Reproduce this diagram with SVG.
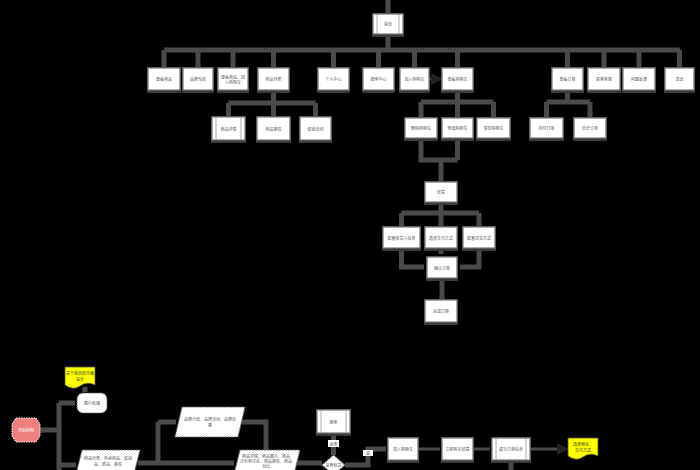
<svg xmlns="http://www.w3.org/2000/svg" width="700" height="470" viewBox="0 0 700 470">
<style>
text{font-family:"Noto Sans CJK SC","Noto Sans",sans-serif;font-size:4px;fill:#555;text-anchor:middle;dominant-baseline:central}
.sh{fill:#3a3a3a}
.box{fill:#fff;stroke:#777;stroke-width:1.2}
.bar{stroke:#999;stroke-width:0.8}
.c{fill:none;stroke:#4a4a4a;stroke-width:5}
.a{fill:none;stroke:#4a4a4a;stroke-width:3;marker-end:url(#ah)}
</style>
<defs>
<marker id="ah" markerWidth="4" markerHeight="4" refX="3" refY="2" orient="auto" markerUnits="strokeWidth"><path d="M0,0L4,2L0,4z" fill="#222"/></marker>
</defs>
<rect width="700" height="470" fill="#000"/>
<g id="connectors">
<path class="c" d="M388,0V14M388,34V50M164,50H680M164,50V68M198,50V68M233,50V68M273.5,50V68M333.5,50V68M378.5,50V68M414.5,50V68M457.5,50V68M567.5,50V68M604,50V68M639,50V68M679.5,50V68"/>
<path class="c" d="M273.5,90V117M228.5,103H315.5M228.5,103V117M315.5,103V117"/>
<path class="c" d="M457.5,91V118M421,102H493.5M421,102V118M493.5,102V118"/>
<path class="c" d="M567.5,91V102M546.5,102H590M546.5,102V118M590,102V118"/>
<path class="c" d="M421,138V160H457.5M457.5,138V160M441,160V182"/>
<path class="c" d="M441,202V227M401.5,213H479M401.5,213V227M479,213V227"/>
<path class="c" d="M401.5,248V267H424M479,248V267H460M441,248V254M442,278V300"/>
<path class="a" d="M429,79H440"/>
<path class="c" d="M40,430H59M59,403V470M59,403H75M59,465H76M85,387V392"/>
<path class="c" d="M138,463H234M158,422V463M158,422H176M242,422H266V450"/>
<path class="c" d="M297,463H322M333.5,433V455M345,465H368V449H386"/>
<path class="a" d="M418,449H440M473,449H490M530,449H566"/>
<path class="c" d="M511,460V470"/>
</g>
<g id="n-home"><rect class="sh" x="372" y="13" width="32" height="24"/><rect class="box" x="373" y="14" width="30" height="20"/><line class="bar" x1="377" y1="14" x2="377" y2="34"/><line class="bar" x1="399" y1="14" x2="399" y2="34"/><text x="388" y="24">首页</text></g>
<g id="n1"><rect class="sh" x="147" y="67" width="34" height="26"/><rect class="box" x="148" y="68" width="32" height="22"/><text x="164" y="79">查看商品</text></g>
<g id="n2"><rect class="sh" x="182" y="67" width="32" height="26"/><rect class="box" x="183" y="68" width="30" height="22"/><text x="198" y="79">品牌专区</text></g>
<g id="n3"><rect class="sh" x="217" y="67" width="32" height="26"/><rect class="box" x="218" y="68" width="30" height="22"/><text x="233" y="76.5">查看商品、加</text><text x="233" y="81.5">入购物车</text></g>
<g id="n4"><rect class="sh" x="257" y="67" width="33" height="26"/><rect class="box" x="258" y="68" width="31" height="22"/><text x="273.5" y="79">商品分类</text></g>
<g id="n5"><rect class="sh" x="317" y="67" width="33" height="26"/><rect class="box" x="318" y="68" width="31" height="22"/><text x="333.5" y="79">个人中心</text></g>
<g id="n6"><rect class="sh" x="362" y="67" width="33" height="26"/><rect class="box" x="363" y="68" width="31" height="22"/><text x="378.5" y="79">搜索中心</text></g>
<g id="n7"><rect class="sh" x="399" y="67" width="31" height="26"/><rect class="box" x="400" y="68" width="29" height="22"/><text x="414.5" y="79">加入购物车</text></g>
<g id="n8"><rect class="sh" x="441" y="67" width="33" height="26"/><rect class="box" x="442" y="68" width="31" height="22"/><text x="457.5" y="79">查看购物车</text></g>
<g id="n9"><rect class="sh" x="551" y="67" width="33" height="26"/><rect class="box" x="552" y="68" width="31" height="22"/><text x="567.5" y="79">查看订单</text></g>
<g id="n10"><rect class="sh" x="587" y="67" width="34" height="26"/><rect class="box" x="588" y="68" width="32" height="22"/><text x="604" y="79">联系客服</text></g>
<g id="n11"><rect class="sh" x="622" y="67" width="34" height="26"/><rect class="box" x="623" y="68" width="32" height="22"/><text x="639" y="79">问题反馈</text></g>
<g id="n12"><rect class="sh" x="664" y="67" width="31" height="26"/><rect class="box" x="665" y="68" width="29" height="22"/><text x="679.5" y="79">退出</text></g>
<g id="n4a"><rect class="sh" x="211" y="116" width="35" height="27"/><rect class="box" x="212" y="117" width="33" height="23"/><line class="bar" x1="216" y1="117" x2="216" y2="140"/><line class="bar" x1="241" y1="117" x2="241" y2="140"/><text x="228.5" y="128.5">商品详情</text></g>
<g id="n4b"><rect class="sh" x="256" y="116" width="35" height="27"/><rect class="box" x="257" y="117" width="33" height="23"/><text x="273.5" y="128.5">商品推荐</text></g>
<g id="n4c"><rect class="sh" x="299" y="116" width="33" height="27"/><rect class="box" x="300" y="117" width="31" height="23"/><text x="315.5" y="128.5">促销活动</text></g>
<g id="n8a"><rect class="sh" x="404" y="117" width="34" height="24"/><rect class="box" x="405" y="118" width="32" height="20"/><text x="421" y="128">删除购物车</text></g>
<g id="n8b"><rect class="sh" x="441" y="117" width="33" height="24"/><rect class="box" x="442" y="118" width="31" height="20"/><text x="457.5" y="128">修改购物车</text></g>
<g id="n8c"><rect class="sh" x="476" y="117" width="35" height="24"/><rect class="box" x="477" y="118" width="33" height="20"/><text x="493.5" y="128">清空购物车</text></g>
<g id="n9a"><rect class="sh" x="529" y="117" width="35" height="24"/><rect class="box" x="530" y="118" width="33" height="20"/><text x="546.5" y="128">待付订单</text></g>
<g id="n9b"><rect class="sh" x="573" y="117" width="34" height="24"/><rect class="box" x="574" y="118" width="32" height="20"/><text x="590" y="128">历史订单</text></g>
<g id="n-pay"><rect class="sh" x="424" y="181" width="34" height="24"/><rect class="box" x="425" y="182" width="32" height="20"/><text x="441" y="192">结算</text></g>
<g id="n-p1"><rect class="sh" x="382" y="226" width="39" height="25"/><rect class="box" x="383" y="227" width="37" height="21"/><text x="401.5" y="237.5">配置收货人信息</text></g>
<g id="n-p2"><rect class="sh" x="424" y="226" width="34" height="25"/><rect class="box" x="425" y="227" width="32" height="21"/><text x="441" y="237.5">选择支付方式</text></g>
<g id="n-p3"><rect class="sh" x="462" y="226" width="34" height="25"/><rect class="box" x="463" y="227" width="32" height="21"/><text x="479" y="237.5">配置送货方式</text></g>
<g id="n-confirm"><rect class="sh" x="426" y="256" width="32" height="25"/><rect class="box" x="427" y="257" width="30" height="21"/><text x="442" y="267.5">确认订单</text></g>
<g id="n-done"><rect class="sh" x="424" y="299" width="34" height="26"/><rect class="box" x="425" y="300" width="32" height="22"/><text x="441" y="311">完成订单</text></g>
<g id="b-start"><polygon points="16,418 36,418 40,424 40,436 36,442 16,442 12,436 12,424" fill="#f08080" stroke="#fff" stroke-width="1" stroke-dasharray="1.5,1"/><text x="26" y="430" style="fill:#fff">开始购物</text></g>
<g id="b-note1"><path d="M65,367H95V385Q87,381 80,386T65,385Z" fill="#ffff00" stroke="#555" stroke-width="0.8"/><text x="80" y="373" style="fill:#333">关于首页的平面</text><text x="80" y="378.5" style="fill:#333">设计</text></g>
<g id="b-banner"><rect x="77" y="393" width="30" height="20" rx="6" fill="#fff" stroke="#666" stroke-width="1.2" stroke-dasharray="1.5,1"/><text x="92" y="403">图片轮播</text></g>
<g id="b-par1"><polygon points="82,450 140,450 133,478 75,478" fill="#fff" stroke="#666" stroke-width="1.2" stroke-dasharray="2,1"/><text x="108" y="458">商品分类：热卖商品、促销</text><text x="108" y="463.5">品、新品、推荐</text></g>
<g id="b-par2"><polygon points="182,407 245,407 238,437 175,437" fill="#fff" stroke="#666" stroke-width="1.2" stroke-dasharray="2,1"/><text x="210" y="419">品牌介绍、品牌活动、品牌优</text><text x="210" y="424.5">惠</text></g>
<g id="b-par3"><polygon points="240,450 300,450 293,478 233,478" fill="#fff" stroke="#666" stroke-width="1.2" stroke-dasharray="2,1"/><text x="266" y="455.5">商品详情、商品图片、商品</text><text x="266" y="460.5">评价和评论、商品推荐、商品</text><text x="266" y="465.5">对比</text></g>
<g id="b-search"><rect class="sh" x="316" y="409" width="35" height="27"/><rect class="box" x="317" y="410" width="33" height="23"/><line class="bar" x1="321" y1="410" x2="321" y2="433"/><line class="bar" x1="346" y1="410" x2="346" y2="433"/><text x="333.5" y="421.5">搜索</text></g>
<g id="b-lbl1"><rect x="328" y="440" width="11" height="7" fill="#fff"/><text x="333.5" y="443.5">是否</text></g>
<g id="b-dia"><polygon points="333.5,455 345,465 333.5,475 322,465" fill="#fff" stroke="#666" stroke-width="1.2" stroke-dasharray="1.5,1"/><text x="333.5" y="465">是否有货</text></g>
<g id="b-lbl2"><rect x="363" y="450" width="10" height="6" fill="#fff"/><text x="368" y="453">是</text></g>
<g id="b-cart"><rect class="sh" x="387" y="437" width="32" height="26"/><rect class="box" x="388" y="438" width="30" height="22"/><text x="403" y="449">加入购物车</text></g>
<g id="b-buy"><rect class="sh" x="441" y="437" width="33" height="26"/><rect class="box" x="442" y="438" width="31" height="22"/><text x="457.5" y="449">立即购买结算</text></g>
<g id="b-order"><rect class="sh" x="491" y="437" width="40" height="26"/><rect class="box" x="492" y="438" width="38" height="22"/><line class="bar" x1="496" y1="438" x2="496" y2="460"/><line class="bar" x1="526" y1="438" x2="526" y2="460"/><text x="511" y="449">填写订单信息</text></g>
<g id="b-note2"><path d="M568,438H598V456Q590,452 583,457T568,456Z" fill="#ffff00" stroke="#555" stroke-width="0.8"/><text x="583" y="444" style="fill:#333">选择地址、</text><text x="583" y="449.5" style="fill:#333">支付方式</text></g>
</svg>
